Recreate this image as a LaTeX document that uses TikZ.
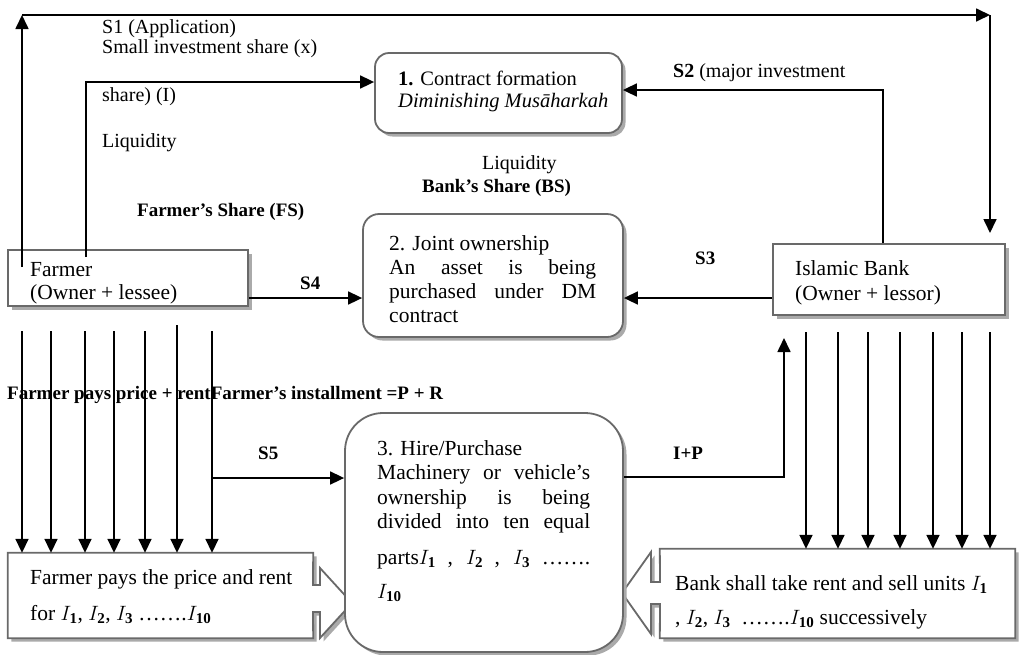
\documentclass[tikz,border=0pt]{standalone}
\usepackage{fontspec}
\setmainfont{Liberation Serif}
\usetikzlibrary{arrows.meta,shadows,calc}
\definecolor{bordergray}{RGB}{105,105,105}
\definecolor{shadowgray}{RGB}{170,170,170}
\newcommand\Isub[1]{$I_{\mathbf{#1}}$}
\newcommand\jl[2]{\makebox[#1][s]{#2}}
\begin{document}
\begin{tikzpicture}[x=1pt,y=-1pt,
  arr/.style={line width=1.7pt,-{Triangle[length=14pt,width=13pt]}},
  shbox/.style={draw=bordergray,line width=1.8pt,fill=white,inner sep=0pt,
     drop shadow={shadow xshift=3.5pt,shadow yshift=-3.5pt,fill=shadowgray,opacity=1}},
  rbox/.style={shbox,rounded corners=#1},
  callout/.style={draw=bordergray,line width=1.8pt,fill=white,
     drop shadow={shadow xshift=3.5pt,shadow yshift=-3.5pt,fill=shadowgray,opacity=1}},
  txt/.style={font=\fontsize{21.5}{24}\selectfont,inner sep=0pt,align=left},
  pal/.style={font=\fontsize{20}{20.5}\selectfont,inner sep=0pt,align=left},
  lbl/.style={font=\fontsize{19}{21}\selectfont\bfseries,inner sep=0pt}]
\useasboundingbox[fill=white] (0,0) rectangle (1019,654);

% callouts (positioning nodes)
\node[minimum width=305pt,minimum height=85pt,inner sep=0pt] (fp) at (160.5,595.5) {};
\node[minimum width=355pt,minimum height=89pt,inner sep=0pt] (bc) at (837.5,593.5) {};
\draw[callout] (fp.north west) -- (fp.north east) -- (313,585) -- (320,585) -- (320,568)
   -- (352,603) -- (320,638) -- (320,612) -- (313,612) -- (fp.south east) -- (fp.south west) -- cycle;
\draw[callout] (bc.north east) -- (bc.north west) -- (660,582) -- (651,582) -- (651,552)
   -- (622,593) -- (651,634) -- (651,604) -- (660,604) -- (bc.south west) -- (bc.south east) -- cycle;

% boxes
\node[rbox=14pt,minimum width=247pt,minimum height=80pt] (c1) at (498.5,93) {};
\node[rbox=16pt,minimum width=260pt,minimum height=123pt] (c2) at (493,275.5) {};
\node[rbox=38pt,minimum width=278pt,minimum height=239pt] (c3) at (484,532.5) {};
\node[shbox,minimum width=240pt,minimum height=56pt] (farmer) at (128,278) {};
\node[shbox,minimum width=232pt,minimum height=71pt] (bank) at (889,279.5) {};

% box texts
\node[pal,anchor=north west,font=\fontsize{20.5}{22}\selectfont] (t1) at (398,71)
  {\textbf{1.} Contract formation\\\textit{Diminishing Musāharkah}};
\node[txt,anchor=north west] (t2) at (389,235)
  {2. Joint ownership\\\jl{207pt}{An asset is being}\\\jl{207pt}{purchased under DM}\\contract};
\node[txt,anchor=north west,font=\fontsize{21.5}{24.5}\selectfont] (t3) at (377,440)
  {3. Hire/Purchase\\\jl{213pt}{Machinery or vehicle’s}\\\jl{213pt}{ownership is being}\\\jl{213pt}{divided into ten equal}\\[11pt]\jl{213pt}{parts\Isub{1} , \Isub{2} , \Isub{3} …….}\\[10pt]\Isub{10}};
\node[txt,anchor=north west,font=\fontsize{21.5}{23}\selectfont] (tf) at (30,262) {Farmer\\(Owner + lessee)};
\node[txt,anchor=north west,font=\fontsize{21.5}{25}\selectfont] (tb) at (795,260) {Islamic Bank\\(Owner + lessor)};
\node[txt,anchor=north west] (tfp) at (30,569)
  {Farmer pays the price and rent\\[12pt]for \Isub{1}, \Isub{2}, \Isub{3} …….\Isub{10}};
\node[txt,anchor=north west] (tbc) at (675,575)
  {Bank shall take rent and sell units \Isub{1}\\[10pt], \Isub{2}, \Isub{3} \ …….\Isub{10} successively};

% free labels
\node[pal,anchor=north west] (s1) at (102,19) {S1 (Application)\\Small investment share (x)};
\node[pal,anchor=west] (sh) at (102,97) {share) (I)};
\node[pal,anchor=west] (liq1) at (102,143) {Liquidity};
\node[lbl,anchor=west] (fs) at (137,212) {Farmer’s Share (FS)};
\node[pal,anchor=west] (liq2) at (482,165) {Liquidity};
\node[lbl,anchor=west] (bs) at (422,188) {Bank’s Share (BS)};
\node[pal,anchor=west] (s2) at (673,73) {\textbf{S2} (major investment};
\node[lbl,anchor=west] (s4) at (300,283) {S4};
\node[lbl,anchor=west] (s3) at (695,258) {S3};
\node[lbl,anchor=west] (s5) at (258,453) {S5};
\node[lbl,anchor=west] (ip) at (673,453) {I+P};
\node[lbl,anchor=west] (fpp) at (7,395) {Farmer pays price + rentFarmer’s installment =P + R};

% connectors
\coordinate (f1) at (22,267);
\coordinate (tl) at (22,15);
\coordinate (tr) at (990,15);
\coordinate (b1) at (990,233);
\draw[arr] (f1) -- (tl);
\draw[arr] (tl) -- (tr);
\draw[arr] (tr) -- (b1);
\coordinate (f2) at (86,257);
\draw[arr] (f2) |- ([yshift=11pt]c1.west);
\draw[arr] ([xshift=-6pt]bank.north) |- ([yshift=3pt]c1.east);
\coordinate (s4a) at ([yshift=-20pt]farmer.east);
\draw[arr] (s4a) -- (s4a -| c2.west);
\coordinate (s3a) at ([yshift=-18.5pt]bank.west);
\draw[arr] (s3a) -- (s3a -| c2.east);
\coordinate (s5a) at (212,478);
\draw[arr] (s5a) -- (s5a -| c3.west);
\coordinate (ipa) at (c3.east |- 0,477);
\coordinate (ipb) at (784,338);
\draw[arr] (ipa) -| (ipb);
\foreach \x/\y in {22/331,51/331,85/331,114/331,145/331,177/325,212/331}
  \draw[arr] (\x,\y) -- (fp.north -| \x,0);
\foreach \x in {806,838,868,900,933,962,990}
  \draw[arr] (\x,332) -- (bc.north -| \x,0);
\end{tikzpicture}
\end{document}
